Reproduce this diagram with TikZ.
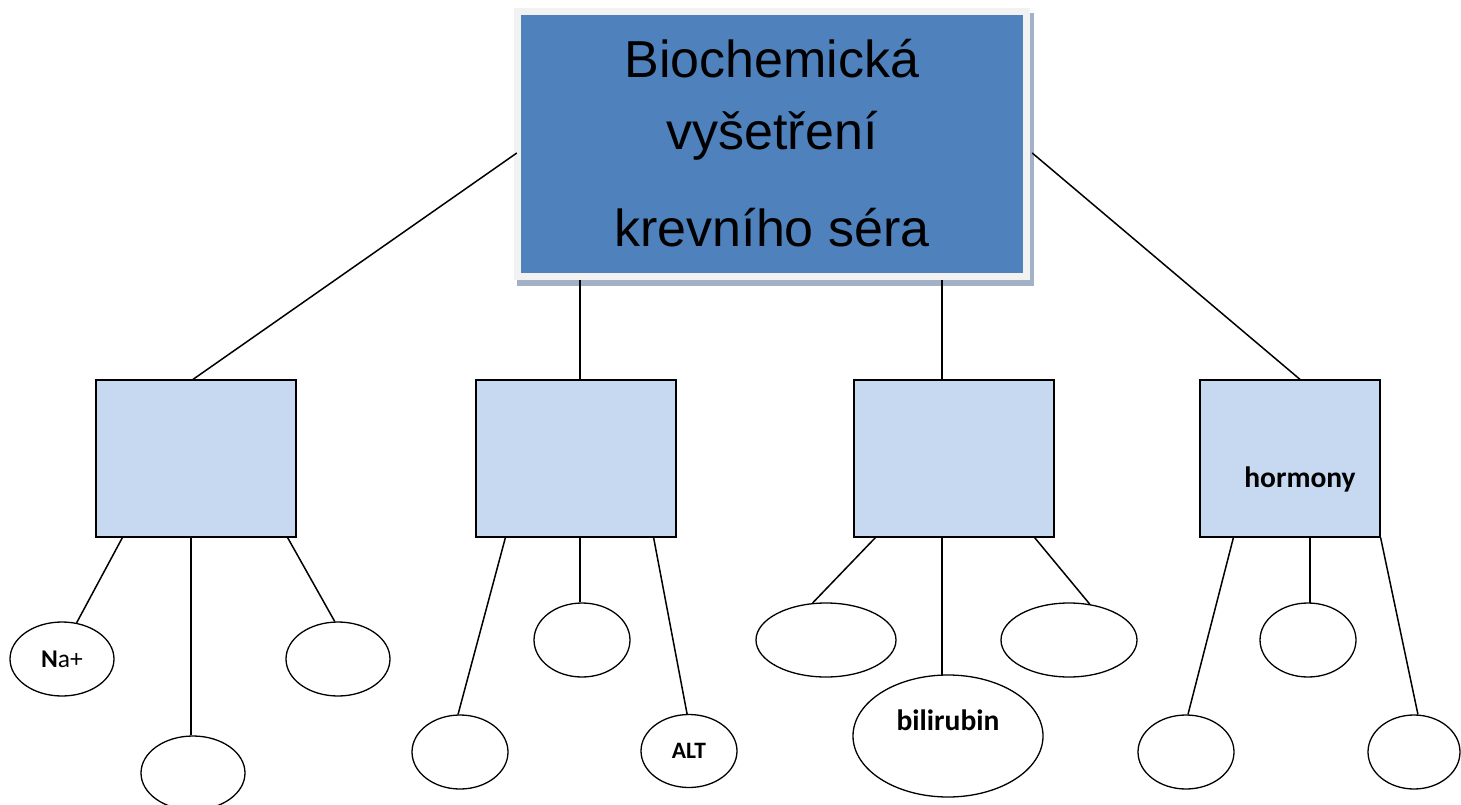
\documentclass[tikz,border=0pt]{standalone}
\usepackage{fontspec}
\setmainfont{Liberation Sans}
\newfontfamily\calfont{Carlito}
\usetikzlibrary{shapes.geometric,calc}
\definecolor{topblue}{HTML}{4F81BD}
\definecolor{midblue}{HTML}{C6D9F1}
\definecolor{framegray}{HTML}{F2F2F2}
\definecolor{shadowgray}{HTML}{A3B1C6}
\begin{document}
\begin{tikzpicture}[x=1pt,y=-1pt,
  conn/.style={line width=1.5pt},
  midbox/.style={draw, line width=1.2pt, fill=midblue, minimum width=200pt, minimum height=157pt, inner sep=0pt},
  ell/.style={ellipse, draw, line width=1.3pt, inner sep=0pt},
  toptext/.style={font=\fontsize{52}{60}\selectfont, anchor=base, inner sep=0pt},
  smalltext/.style={font=\calfont\bfseries\fontsize{29.5}{34}\selectfont}
]
\useasboundingbox (0,0) rectangle (1461,805);
% top box: shadow, frame, blue fill
\fill[shadowgray] (517,13) rectangle (1034,286);
\node[fill=framegray, minimum width=516pt, minimum height=272pt, inner sep=0pt] (top) at (772,144) {};
\fill[topblue] (521,15) rectangle (1023,273);
\node[toptext] (t1) at (772,78) {Biochemická};
\node[toptext] (t2) at (772,150) {vyšetření};
\node[toptext] (t3) at (772,246) {krevního séra};
% middle boxes
\node[midbox] (b1) at (196,458.5) {};
\node[midbox] (b2) at (576,458.5) {};
\node[midbox] (b3) at (954,458.5) {};
\node[midbox, minimum width=180pt] (b4) at (1290,458.5) {};
\node[smalltext] (hor) at (1300,479) {hormony};
% connector end points
\coordinate (v2top) at (580,280);
\coordinate (v2bot) at (580,380);
\coordinate (v3top) at (942,280);
\coordinate (v3bot) at (942,380);
% connectors top -> boxes
\draw[conn] ($(top.west)+(3,9)$) -- ($(b1.north)+(-3,0)$);
\draw[conn] ($(top.east)+(2,9)$) -- ($(b4.north)+(10,0)$);
\draw[conn] (v2top) -- (v2bot);
\draw[conn] (v3top) -- (v3bot);
% group 1
\node[ell, minimum width=104pt, minimum height=74pt, font=\calfont\fontsize{25.5}{30}\selectfont] (e11) at (62,659) {\textbf{N}a+};
\node[ell, minimum width=104pt, minimum height=74pt] (e12) at (193,773) {};
\node[ell, minimum width=104pt, minimum height=74pt] (e13) at (338,659) {};
\draw[conn] ($(b1.south west)+(27,0)$) -- (e11.68);
\draw[conn] ($(b1.south)+(-5,0)$) -- ($(e12.north)+(-2,0)$);
\draw[conn] ($(b1.south east)+(-9,0)$) -- (e13.95);
% group 2
\node[ell, minimum width=96pt, minimum height=74pt] (e21) at (460,752) {};
\node[ell, minimum width=96pt, minimum height=74pt] (e22) at (582,640) {};
\node[ell, minimum width=96pt, minimum height=73pt, font=\calfont\bfseries\fontsize{23.5}{28}\selectfont] (e23) at (689,751) {ALT};
\draw[conn] ($(b2.south west)+(30,0)$) -- (e21.93);
\draw[conn] ($(b2.south)+(4,0)$) -- ($(e22.north)+(-2,0)$);
\draw[conn] ($(b2.south east)+(-23,0)$) -- (e23.93);
% group 3
\coordinate (v32top) at (942,537);
\coordinate (v32bot) at (942,675.5);
\node[ell, minimum width=140pt, minimum height=74pt] (e31) at (826,640) {};
\node[ell, minimum width=190pt, minimum height=122pt] (e32) at (948,736) {};
\node[smalltext] (bili) at (948,720) {bilirubin};
\node[ell, minimum width=136pt, minimum height=74pt] (e33) at (1069,640) {};
\draw[conn] ($(b3.south west)+(22,0)$) -- (e31.110);
\draw[conn] (v32top) -- (v32bot);
\draw[conn] ($(b3.south east)+(-20,0)$) -- (e33.60);
% group 4
\coordinate (v42top) at (1310,537);
\coordinate (v42bot) at (1310,603);
\node[ell, minimum width=96pt, minimum height=74pt] (e41) at (1186,752) {};
\node[ell, minimum width=96pt, minimum height=74pt] (e42) at (1308,640) {};
\node[ell, minimum width=92pt, minimum height=74pt] (e43) at (1414,752) {};
\draw[conn] ($(b4.south west)+(34,0)$) -- (e41.87);
\draw[conn] (v42top) -- (v42bot);
\draw[conn] (b4.south east) -- (e43.84);
\end{tikzpicture}
\end{document}
